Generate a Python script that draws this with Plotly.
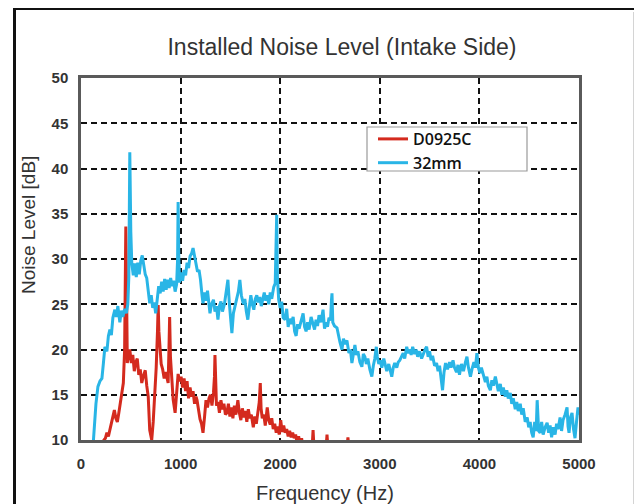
import plotly.graph_objects as go

# ---- data ----
freq_32mm = [100, 125, 150, 170, 190, 210, 225, 240, 260, 275, 290, 305, 320, 340, 355, 370, 390, 405, 420, 440,
             455, 470, 480, 490, 500, 510, 525, 540, 555, 570, 585, 600, 615, 630, 645, 660, 675, 690, 705, 720,
             735, 750, 765, 780, 795, 810, 825, 840, 855, 870, 885, 900, 915, 930, 945, 960, 970, 975, 982, 990,
             1005, 1020, 1035, 1050, 1065, 1080, 1095, 1110, 1125, 1140, 1155, 1170, 1185, 1200, 1215, 1225, 1240,
             1255, 1270, 1285, 1295, 1310, 1330, 1345, 1360, 1375, 1390, 1405, 1420, 1440, 1455, 1475, 1490, 1505,
             1515, 1530, 1545, 1560, 1580, 1595, 1610, 1630, 1645, 1660, 1675, 1690, 1705, 1720, 1735, 1750, 1765,
             1780, 1795, 1810, 1825, 1840, 1855, 1870, 1885, 1900, 1915, 1935, 1950, 1958, 1965, 1972, 1985, 2000,
             2015, 2030, 2050, 2065, 2080, 2095, 2110, 2130, 2145, 2160, 2175, 2190, 2210, 2230, 2245, 2260, 2275,
             2290, 2310, 2330, 2345, 2360, 2375, 2390, 2410, 2430, 2445, 2460, 2475, 2490, 2505, 2515, 2520, 2528,
             2545, 2570, 2585, 2600, 2620, 2635, 2650, 2670, 2690, 2705, 2720, 2735, 2750, 2765, 2780, 2800, 2820,
             2835, 2850, 2865, 2880, 2900, 2920, 2935, 2950, 2965, 2975, 2990, 3005, 3020, 3040, 3055, 3070, 3090,
             3105, 3120, 3135, 3150, 3170, 3185, 3200, 3220, 3235, 3250, 3270, 3285, 3300, 3315, 3330, 3350, 3365,
             3380, 3400, 3420, 3440, 3455, 3470, 3485, 3500, 3515, 3530, 3550, 3570, 3585, 3600, 3615, 3630, 3645,
             3660, 3680, 3700, 3715, 3735, 3750, 3770, 3785, 3800, 3820, 3840, 3860, 3875, 3890, 3910, 3925, 3945,
             3960, 3975, 3990, 4005, 4020, 4040, 4060, 4075, 4090, 4110, 4125, 4140, 4160, 4175, 4190, 4210, 4225,
             4240, 4260, 4275, 4290, 4310, 4325, 4340, 4360, 4375, 4390, 4410, 4425, 4440, 4460, 4480, 4495, 4510,
             4525, 4540, 4555, 4570, 4580, 4595, 4610, 4625, 4640, 4660, 4680, 4695, 4710, 4725, 4740, 4760, 4775,
             4790, 4810, 4825, 4840, 4860, 4880, 4890, 4900, 4915, 4930, 4945, 4960, 4975, 4990, 5000]
level_32mm = [8.0, 10.0, 14.0, 15.9, 16.5, 16.8, 18.5, 20.3, 19.8, 21.5, 22.2, 21.6, 23.5, 24.4, 23.6, 24.8, 23.0, 24.3, 23.6, 24.5,
              24.0, 25.0, 28.0, 41.8, 33.0, 29.5, 28.2, 29.5, 28.0, 29.6, 28.3, 29.8, 30.4, 29.0, 28.3, 27.9, 26.5, 25.1, 26.0, 24.6,
              25.2, 24.0, 25.5, 27.0, 26.2, 27.5, 26.4, 27.8, 26.6, 27.7, 26.8, 27.9, 27.0, 27.6, 26.4, 27.2, 30.0, 36.3, 30.0, 27.4,
              28.5, 27.6, 28.8, 28.2, 29.6, 29.0, 30.3, 30.6, 31.2, 30.2, 29.5, 28.6, 28.8, 27.7, 26.0, 25.1, 26.3,
              25.4, 26.5, 24.6, 24.0, 25.0, 25.5, 24.2, 24.8, 23.3, 24.8, 25.3, 24.2, 25.0, 26.0, 27.7, 25.0, 23.2,
              21.8, 24.0, 24.8, 25.6, 26.4, 27.7, 26.0, 25.0, 25.6, 24.2, 23.3, 24.7, 26.0, 25.0, 24.4, 25.6, 26.0,
              25.2, 25.8, 24.8, 25.5, 26.3, 25.4, 26.0, 25.0, 26.3, 25.6, 26.9, 27.3, 31.0, 34.9, 28.0, 25.5, 24.6,
              25.3, 23.5, 23.3, 24.5, 22.5, 23.4, 22.8, 23.6, 22.0, 21.5, 22.8, 22.3, 23.2, 24.0, 22.5, 22.0, 23.0,
              22.2, 23.6, 22.9, 22.2, 23.3, 22.6, 23.8, 23.0, 24.4, 22.3, 23.0, 22.5, 23.5, 23.2, 25.5, 26.2, 23.0,
              22.6, 22.4, 21.5, 20.8, 20.0, 21.2, 20.6, 21.0, 19.6, 20.0, 18.5, 19.8, 20.5, 19.4, 19.8, 18.6, 18.1,
              19.5, 19.2, 18.4, 19.0, 17.8, 17.0, 18.2, 19.0, 20.3, 19.2, 18.4, 18.8, 18.0, 19.0, 18.3, 17.6, 18.4,
              17.5, 17.0, 18.0, 18.5, 18.0, 18.6, 18.8, 19.2, 19.6, 19.0, 20.3, 19.6, 20.0, 19.4, 20.3, 19.5, 20.0,
              19.2, 19.8, 19.0, 19.7, 20.0, 20.3, 19.2, 19.8, 18.8, 19.3, 18.2, 18.5, 17.6, 18.2, 17.0, 15.5, 17.5,
              18.5, 17.8, 18.6, 18.0, 18.8, 18.0, 17.5, 18.3, 17.2, 18.4, 17.6, 18.6, 19.2, 18.0, 17.0, 17.8, 18.6,
              18.0, 19.6, 18.0, 17.4, 18.0, 17.2, 16.4, 17.0, 16.0, 15.5, 16.6, 16.0, 17.0, 16.2, 15.4, 16.2, 15.0,
              15.8, 14.8, 15.5, 14.6, 15.2, 14.0, 14.6, 13.4, 14.2, 13.2, 14.0, 12.8, 13.5, 12.0, 12.5, 11.4, 12.0,
              10.8, 10.3, 12.0, 11.0, 14.4, 11.0, 10.8, 12.0, 10.6, 11.4, 11.9, 10.8, 11.6, 10.3, 11.4, 10.6, 11.8,
              11.2, 12.5, 11.0, 12.2, 12.8, 13.6, 11.5, 10.8, 12.5, 13.0, 11.2, 10.2, 12.0, 13.6, 12.8]

freq_d0925c = [200, 230, 245, 260, 275, 290, 305, 320, 335, 350, 365, 380, 395, 410, 425, 438, 445, 450, 458, 465,
               475, 490, 505, 520, 535, 550, 565, 580, 595, 610, 625, 645, 660, 675, 690, 710, 725, 740, 755, 768,
               775, 782, 790, 805, 820, 835, 850, 865, 875, 883, 890, 898, 910, 925, 945, 960, 975, 990, 1005, 1020,
               1035, 1050, 1065, 1080, 1095, 1110, 1125, 1140, 1155, 1165, 1180, 1195, 1210, 1225, 1240, 1255, 1270,
               1285, 1300, 1315, 1330, 1340, 1345, 1352, 1360, 1375, 1390, 1405, 1420, 1435, 1450, 1465, 1480, 1495,
               1510, 1525, 1540, 1555, 1575, 1590, 1605, 1620, 1635, 1650, 1665, 1680, 1695, 1710, 1730, 1745, 1760,
               1775, 1790, 1800, 1808, 1820, 1835, 1850, 1870, 1885, 1900, 1915, 1930, 1945, 1960, 1975, 1990, 2005,
               2020, 2035, 2050, 2065, 2080, 2095, 2110, 2125, 2140, 2155, 2170, 2185, 2200, 2215, 2230, 2320, 2330,
               2340, 2460, 2470, 2480, 2670, 2680, 2690]
level_d0925c = [9.0, 10.0, 10.2, 10.8, 10.4, 11.1, 12.0, 12.5, 13.3, 12.4, 12.0, 13.0, 14.0, 14.8, 16.3, 20.0, 30.0, 33.6, 26.0, 18.5,
                19.2, 20.0, 18.5, 19.4, 17.6, 18.6, 19.0, 17.2, 17.8, 16.3, 17.0, 17.7, 16.0, 14.8, 11.1, 10.0, 12.0, 14.8, 18.0, 22.0,
                24.9, 22.0, 20.5, 18.4, 17.8, 16.8, 17.5, 16.6, 16.3, 20.0, 23.6, 19.2, 17.0, 14.5, 13.0, 15.0, 17.3, 16.5, 17.0, 15.8,
                16.8, 15.4, 16.5, 14.6, 15.8, 14.8, 15.4, 14.0, 14.8, 14.4, 13.0, 12.3, 11.8, 10.8, 12.5, 14.4, 13.6,
                14.6, 15.0, 13.8, 15.2, 17.0, 19.4, 16.0, 13.8, 14.2, 13.0, 14.4, 13.4, 14.0, 12.8, 13.0, 14.0, 12.6,
                13.6, 12.4, 13.8, 12.8, 14.4, 13.0, 12.2, 13.5, 12.5, 13.2, 12.0, 13.4, 12.4, 12.8, 11.4, 12.6, 11.8,
                13.0, 14.2, 16.3, 13.5, 12.4, 12.8, 11.6, 13.6, 12.2, 11.7, 12.4, 11.2, 11.8, 10.8, 11.5, 10.6, 12.2,
                10.9, 11.6, 10.8, 11.2, 10.4, 11.0, 10.3, 10.8, 10.2, 10.6, 9.6, 10.4, 9.5, 10.2, 9.0, 9.0, 11.1,
                9.0, 9.0, 10.6, 9.0, 9.0, 10.3, 9.0]

x_ticks = [0, 1000, 2000, 3000, 4000, 5000]
y_ticks = [10, 15, 20, 25, 30, 35, 40, 45, 50]

# ---- layout geometry ----
# The page places the plot 8px in from the window corner (body margin),
# so the figure is laid out in window pixels minus that offset.
OFF = 8
W, H = 642 - OFF, 504 - OFF
L, R, T, B = 81 - OFF, 579 - OFF, 78 - OFF, 440 - OFF
PW, PH = R - L, B - T


def px(x_win):
    return (x_win - OFF - L) / PW


def py(y_win):
    return (B - (y_win - OFF)) / PH


fig = go.Figure()
fig.add_trace(go.Scatter(x=freq_d0925c, y=level_d0925c, mode="lines", name="D0925C",
                         line=dict(color="#d42a1e", width=3)))
fig.add_trace(go.Scatter(x=freq_32mm, y=level_32mm, mode="lines", name="32mm",
                         line=dict(color="#29b5e6", width=3)))

axis_common = dict(
    showline=True, linecolor="#5a5a5a", linewidth=2.5, mirror=True,
    showgrid=True, gridcolor="#111111", gridwidth=1.8, griddash="6px,4px",
    zeroline=False, ticks="outside", tickcolor="rgba(0,0,0,0)",
    tickfont=dict(family="Liberation Sans, Arial", size=15, color="#333333", weight="bold"),
)

fig.update_xaxes(range=[0, 5000], tickvals=x_ticks, ticklen=8, **axis_common)
fig.update_yaxes(range=[10, 50], tickvals=y_ticks, ticklen=7, **axis_common)

shapes = [
    # legend box
    dict(type="rect", xref="paper", yref="paper", x0=px(367), x1=px(527), y0=py(171), y1=py(127),
         fillcolor="white", line=dict(color="#9a9a9a", width=1.2), layer="above"),
    # outer picture frame
    dict(type="line", xref="paper", yref="paper", x0=px(14.5), x1=px(14.5), y0=py(510), y1=py(7),
         line=dict(color="#111111", width=3)),
    dict(type="line", xref="paper", yref="paper", x0=px(13), x1=px(650), y0=py(8.5), y1=py(8.5),
         line=dict(color="#111111", width=3)),
    dict(type="line", xref="paper", yref="paper", x0=px(634), x1=px(634), y0=py(510), y1=py(12),
         line=dict(color="#d4d4d4", width=2)),
]

annotations = [
    dict(text="Noise Level [dB]", xref="paper", yref="paper", x=px(28), y=py(225), textangle=-90,
         showarrow=False, xanchor="center", yanchor="middle",
         font=dict(family="Liberation Sans, Arial", size=19, color="#333333")),
    dict(text="Frequency (Hz)", xref="paper", yref="paper", x=px(325), y=py(493),
         showarrow=False, xanchor="center", yanchor="middle",
         font=dict(family="Liberation Sans, Arial", size=20, color="#333333")),
]

fig.update_layout(
    width=W, height=H,
    margin=dict(l=L, r=W - R, t=T, b=H - B),
    paper_bgcolor="white", plot_bgcolor="white",
    title=dict(text="Installed Noise Level (Intake Side)", x=(342 - OFF) / W, xanchor="center",
               y=1 - (47 - OFF) / H, yanchor="middle", yref="container",
               font=dict(family="Liberation Sans, Arial", size=23, color="#333333")),
    showlegend=True,
    legend=dict(x=px(373), y=py(122), xanchor="left", yanchor="top",
                bgcolor="rgba(0,0,0,0)", borderwidth=0,
                font=dict(family="Open Sans, Liberation Sans", size=16, color="#111111", weight=600),
                tracegroupgap=0, itemwidth=30),
    shapes=shapes,
    annotations=annotations,
)

fig.write_html("out.html")
